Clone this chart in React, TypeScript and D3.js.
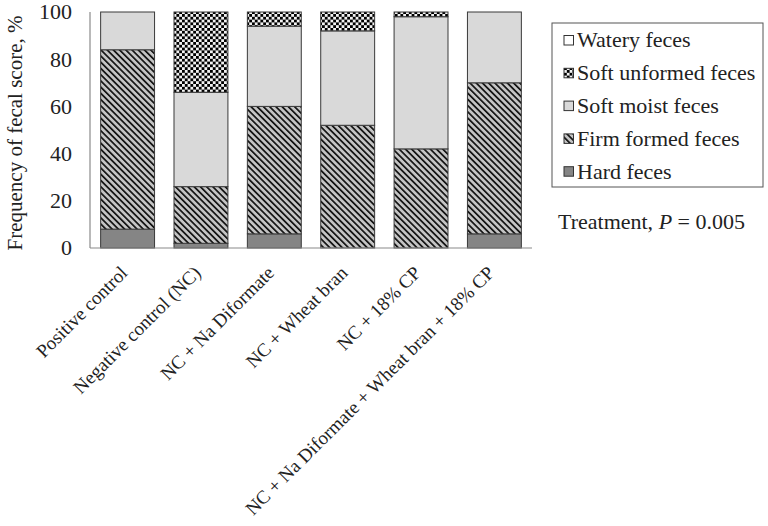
import React from 'react';
import * as d3 from 'd3';

const categories = [
  'Positive control',
  'Negative control (NC)',
  'NC + Na Diformate',
  'NC + Wheat bran',
  'NC + 18% CP',
  'NC + Na Diformate + Wheat bran + 18% CP',
];

// stacked from bottom to top
const hardFeces = [8, 2, 6, 0, 0, 6];
const firmFormed = [76, 24, 54, 52, 42, 64];
const softMoist = [16, 40, 34, 40, 56, 30];
const softUnformed = [0, 34, 6, 8, 2, 0];
const wateryFeces = [0, 0, 0, 0, 0, 0];

const seriesKeys = ['hard', 'firm', 'moist', 'unformed', 'watery'];
const legendLabels = ['Watery feces', 'Soft unformed feces', 'Soft moist feces', 'Firm formed feces', 'Hard feces'];
const legendKeys = ['watery', 'unformed', 'moist', 'firm', 'hard'];
const yTickValues = [0, 20, 40, 60, 80, 100];

const fills: Record<string, string> = {
  hard: '#858585',
  firm: 'url(#stripes)',
  moist: '#d9d9d9',
  unformed: 'url(#checker)',
  watery: '#ffffff',
};

const FONT = "'Liberation Serif', 'DejaVu Serif', serif";

const App = () => {
  const width = 768;
  const height = 526;

  const rows = categories.map((c, i) => ({
    cat: c,
    hard: hardFeces[i],
    firm: firmFormed[i],
    moist: softMoist[i],
    unformed: softUnformed[i],
    watery: wateryFeces[i],
  }));
  const stacked = d3.stack<any>().keys(seriesKeys)(rows);

  const x = d3.scaleBand()
    .domain(categories)
    .range([90, 532])
    .paddingInner(0.265)
    .paddingOuter(0.145);

  const y = d3.scaleLinear().domain([0, 100]).range([248, 12]);

  return (
    <div style={{ position: 'fixed', left: 0, top: 0 }}>
      <svg width={width} height={height} style={{ display: 'block', background: '#fff', fontFamily: FONT }}>
        <defs>
          <pattern id="stripes" patternUnits="userSpaceOnUse" width={4.4} height={4.4} patternTransform="rotate(-45)">
            <rect width={4.4} height={4.4} fill="#c4c4c4" />
            <rect width={1.7} height={4.4} fill="#111" />
          </pattern>
          <pattern id="checker" patternUnits="userSpaceOnUse" width={5.6} height={5.6}>
            <rect width={5.6} height={5.6} fill="#f2f2f2" />
            <rect x={0} y={0} width={2.8} height={2.8} fill="#000" />
            <rect x={2.8} y={2.8} width={2.8} height={2.8} fill="#000" />
          </pattern>
        </defs>

        {/* y axis label */}
        <text
          transform="translate(22,133) rotate(-90)"
          textAnchor="middle"
          fontSize={21}
          fill="#222"
        >
          Frequency of fecal score, %
        </text>

        {/* y ticks */}
        {yTickValues.map(t => (
          <text key={t} x={72} y={y(t)} dy="0.34em" textAnchor="end" fontSize={22} fill="#222">
            {t}
          </text>
        ))}

        {/* bars */}
        {stacked.map(s => (
          <g key={s.key}>
            {s.map((d, i) => (
              d[1] - d[0] > 0 ? (
                <rect
                  key={i}
                  x={x(categories[i])}
                  y={y(d[1])}
                  width={x.bandwidth()}
                  height={y(d[0]) - y(d[1])}
                  fill={fills[s.key]}
                  stroke="#3a3a3a"
                  strokeWidth={1}
                />
              ) : null
            ))}
          </g>
        ))}

        {/* axes */}
        <line x1={90} x2={90} y1={y(100)} y2={y(0)} stroke="#8a8a8a" strokeWidth={1.2} />
        <line x1={90} x2={532} y1={y(0)} y2={y(0)} stroke="#8a8a8a" strokeWidth={1.2} />

        {/* x labels */}
        {categories.map(c => (
          <text
            key={c}
            transform={`translate(${(x(c) as number) + x.bandwidth() / 2 + 1},${y(0) + 26}) rotate(-45)`}
            textAnchor="end"
            fontSize={19}
            fill="#222"
          >
            {c}
          </text>
        ))}

        {/* legend */}
        <rect x={552} y={23} width={211} height={164} fill="#fff" stroke="#555" strokeWidth={1} />
        {legendKeys.map((k, i) => (
          <g key={k} transform={`translate(564,${40 + i * 32.8})`}>
            <rect x={0} y={-4.5} width={9.5} height={9.5} fill={fills[k]} stroke="#333" strokeWidth={1} />
            <text x={13} y={0} dy="0.34em" fontSize={22} fill="#222">{legendLabels[i]}</text>
          </g>
        ))}

        <text x={558} y={229} fontSize={22} fill="#222">
          Treatment,  <tspan fontStyle="italic">P</tspan> = 0.005
        </text>
      </svg>
    </div>
  );
};

export default App;
